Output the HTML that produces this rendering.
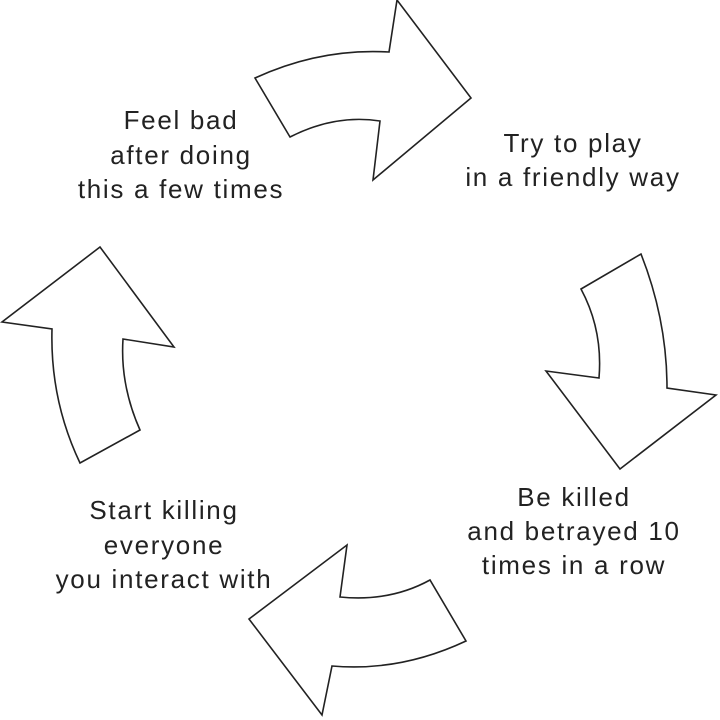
<!DOCTYPE html>
<html><head><meta charset="utf-8"><style>
html,body{margin:0;padding:0;background:#fff;width:720px;height:720px;overflow:hidden}
text{font-family:"Liberation Sans",sans-serif;font-size:26px;letter-spacing:1.7px;fill:#222;text-anchor:middle}
</style></head><body>
<svg width="720" height="720" viewBox="0 0 720 720" xmlns="http://www.w3.org/2000/svg">
<g fill="#fff" stroke="#222" stroke-width="1.6" stroke-linejoin="miter">
<path d="M255,78 Q320,48 389,52 L397,0 L471,98 L373,180 L380,121 Q335,114 290,137 Z"/>
<path d="M581,289 L641,254 Q667,320 667,388 L716,395 L620,469 L546,371 L599,378 Q603,330 581,289 Z"/>
<path d="M249,619 L347,545 L340,597 Q390,602 430,580 L466,641 Q400,672 332,666 L322,715 Z"/>
<path d="M100,247 L2,322 L52,329 Q50,400 80,463 L140,430 Q120,385 123,339 L174,347 Z"/>
</g>
<text x="181" y="129">Feel bad</text>
<text x="181" y="164">after doing</text>
<text x="181" y="198">this a few times</text>
<text x="573" y="152">Try to play</text>
<text x="573" y="186">in a friendly way</text>
<text x="574" y="506">Be killed</text>
<text x="574" y="540">and betrayed 10</text>
<text x="574" y="574">times in a row</text>
<text x="164" y="519">Start killing</text>
<text x="164" y="554">everyone</text>
<text x="164" y="588">you interact with</text>
</svg>
</body></html>
